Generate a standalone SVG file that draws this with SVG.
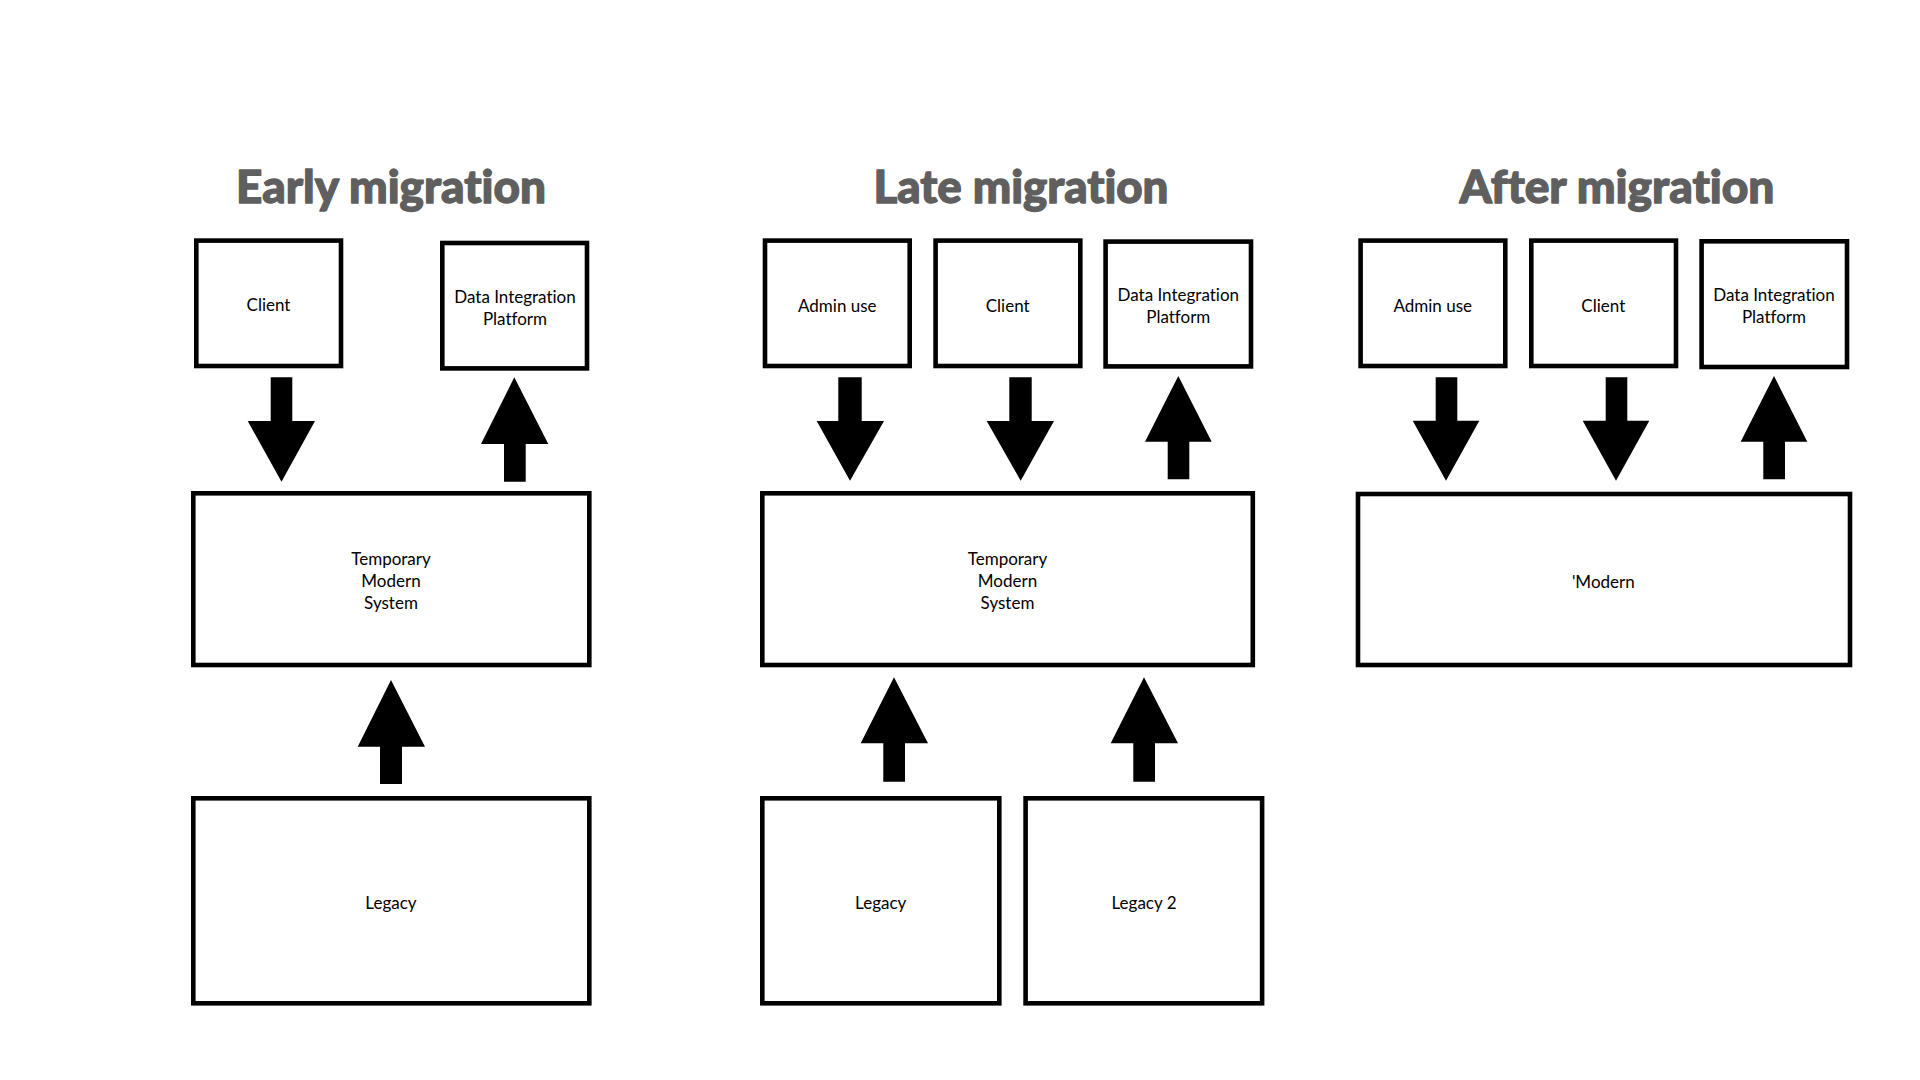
<svg xmlns="http://www.w3.org/2000/svg" width="1920" height="1080" viewBox="0 0 1920 1080">
<style>
.bg{fill:#ffffff}
.box{fill:#ffffff;stroke:#000000;stroke-width:4.6}
.lbl{font-family:Lato,"Liberation Sans",sans-serif;font-size:17px;fill:#000000;text-anchor:middle;font-variant-ligatures:none;font-feature-settings:"liga" 0,"clig" 0,"dlig" 0,"calt" 0}
.title{font-family:Lato,"Liberation Sans",sans-serif;font-weight:900;font-size:46px;fill:#5f5f5f;stroke:#5f5f5f;stroke-width:1.3;stroke-linejoin:round;text-anchor:middle;font-variant-ligatures:none;font-feature-settings:"liga" 0,"clig" 0,"dlig" 0,"calt" 0}
.arrow{fill:#000000;stroke:none}
</style>
<rect class="bg" x="0" y="0" width="1920" height="1080"/>

<g id="titles">
  <text class="title" x="391" y="203" textLength="310" lengthAdjust="spacingAndGlyphs">Early migration</text>
  <text class="title" x="1021" y="203" textLength="295" lengthAdjust="spacingAndGlyphs">Late migration</text>
  <text class="title" x="1617" y="203" textLength="315" lengthAdjust="spacingAndGlyphs">After migration</text>
</g>

<!-- Early migration -->
<g id="early-client"><rect class="box" x="196.3" y="240.6" width="144.7" height="125.4"/><text class="lbl" x="268.5" y="311">Client</text></g>
<g id="early-dip"><rect class="box" x="442.3" y="243" width="144.7" height="125.4"/><text class="lbl" x="515" y="303">Data Integration</text><text class="lbl" x="515" y="324.7">Platform</text></g>
<g id="early-tms"><rect class="box" x="193.3" y="493.3" width="396" height="171.7"/><text class="lbl" x="391" y="565">Temporary</text><text class="lbl" x="391" y="587">Modern</text><text class="lbl" x="391" y="609">System</text></g>
<g id="early-legacy"><rect class="box" x="193.3" y="798.3" width="396" height="205"/><text class="lbl" x="391" y="909.3">Legacy</text></g>

<!-- Late migration -->
<g id="late-admin"><rect class="box" x="765" y="240.6" width="144.7" height="125.4"/><text class="lbl" x="837.3" y="311.7">Admin use</text></g>
<g id="late-client"><rect class="box" x="935.6" y="240.6" width="144.7" height="125.4"/><text class="lbl" x="1007.7" y="311.7">Client</text></g>
<g id="late-dip"><rect class="box" x="1105.6" y="241.6" width="145.4" height="124.8"/><text class="lbl" x="1178.3" y="301">Data Integration</text><text class="lbl" x="1178.3" y="322.7">Platform</text></g>
<g id="late-tms"><rect class="box" x="762.3" y="493.3" width="490.5" height="171.7"/><text class="lbl" x="1007.5" y="565">Temporary</text><text class="lbl" x="1007.5" y="587">Modern</text><text class="lbl" x="1007.5" y="609">System</text></g>
<g id="late-legacy"><rect class="box" x="762.3" y="798.3" width="237" height="205"/><text class="lbl" x="880.7" y="909.3">Legacy</text></g>
<g id="late-legacy2"><rect class="box" x="1025.6" y="798.3" width="236.5" height="205"/><text class="lbl" x="1144" y="909.3">Legacy 2</text></g>

<!-- After migration -->
<g id="after-admin"><rect class="box" x="1360.6" y="240.6" width="144.7" height="125.4"/><text class="lbl" x="1432.7" y="311.7">Admin use</text></g>
<g id="after-client"><rect class="box" x="1531.3" y="240.6" width="144.7" height="125.4"/><text class="lbl" x="1603.3" y="311.7">Client</text></g>
<g id="after-dip"><rect class="box" x="1701.6" y="241.3" width="145.4" height="125.7"/><text class="lbl" x="1774" y="301">Data Integration</text><text class="lbl" x="1774" y="322.7">Platform</text></g>
<g id="after-modern"><rect class="box" x="1358" y="494" width="492" height="171"/><text class="lbl" x="1603.3" y="588.3">'Modern</text></g>

<g id="connectors">
  <!-- early -->
  <polygon class="arrow" points="270.7,377.3 292.3,377.3 292.3,421 315,421 281.5,481.7 247.7,421 270.7,421"/>
  <polygon class="arrow" points="514.3,377.3 548.3,444 525.7,444 525.7,481.7 504,481.7 504,444 481,444"/>
  <polygon class="arrow" points="391,680 425,746.7 402,746.7 402,784 380,784 380,746.7 357.7,746.7"/>
  <!-- late -->
  <polygon class="arrow" points="838.3,377.3 861.7,377.3 861.7,421 884,421 850,480.7 816.7,421 838.3,421"/>
  <polygon class="arrow" points="1009.3,377.3 1031.7,377.3 1031.7,421 1054,421 1020.7,480.7 986.7,421 1009.3,421"/>
  <polygon class="arrow" points="1178.3,376 1211.7,441.7 1189.3,441.7 1189.3,479.3 1167.7,479.3 1167.7,441.7 1145,441.7"/>
  <polygon class="arrow" points="894,677.3 928,743.3 905,743.3 905,781.7 883.3,781.7 883.3,743.3 860.7,743.3"/>
  <polygon class="arrow" points="1144,677.3 1178,743.3 1155,743.3 1155,781.7 1133.3,781.7 1133.3,743.3 1110.7,743.3"/>
  <!-- after -->
  <polygon class="arrow" points="1435.7,377.3 1457.3,377.3 1457.3,420.7 1479.3,420.7 1446,480.7 1412.7,420.7 1435.7,420.7"/>
  <polygon class="arrow" points="1605.7,377.3 1627.3,377.3 1627.3,420.7 1649.3,420.7 1616,480.7 1582.7,420.7 1605.7,420.7"/>
  <polygon class="arrow" points="1774,376 1807.3,441.7 1785,441.7 1785,479.3 1763.3,479.3 1763.3,441.7 1740.7,441.7"/>
</g>
</svg>
